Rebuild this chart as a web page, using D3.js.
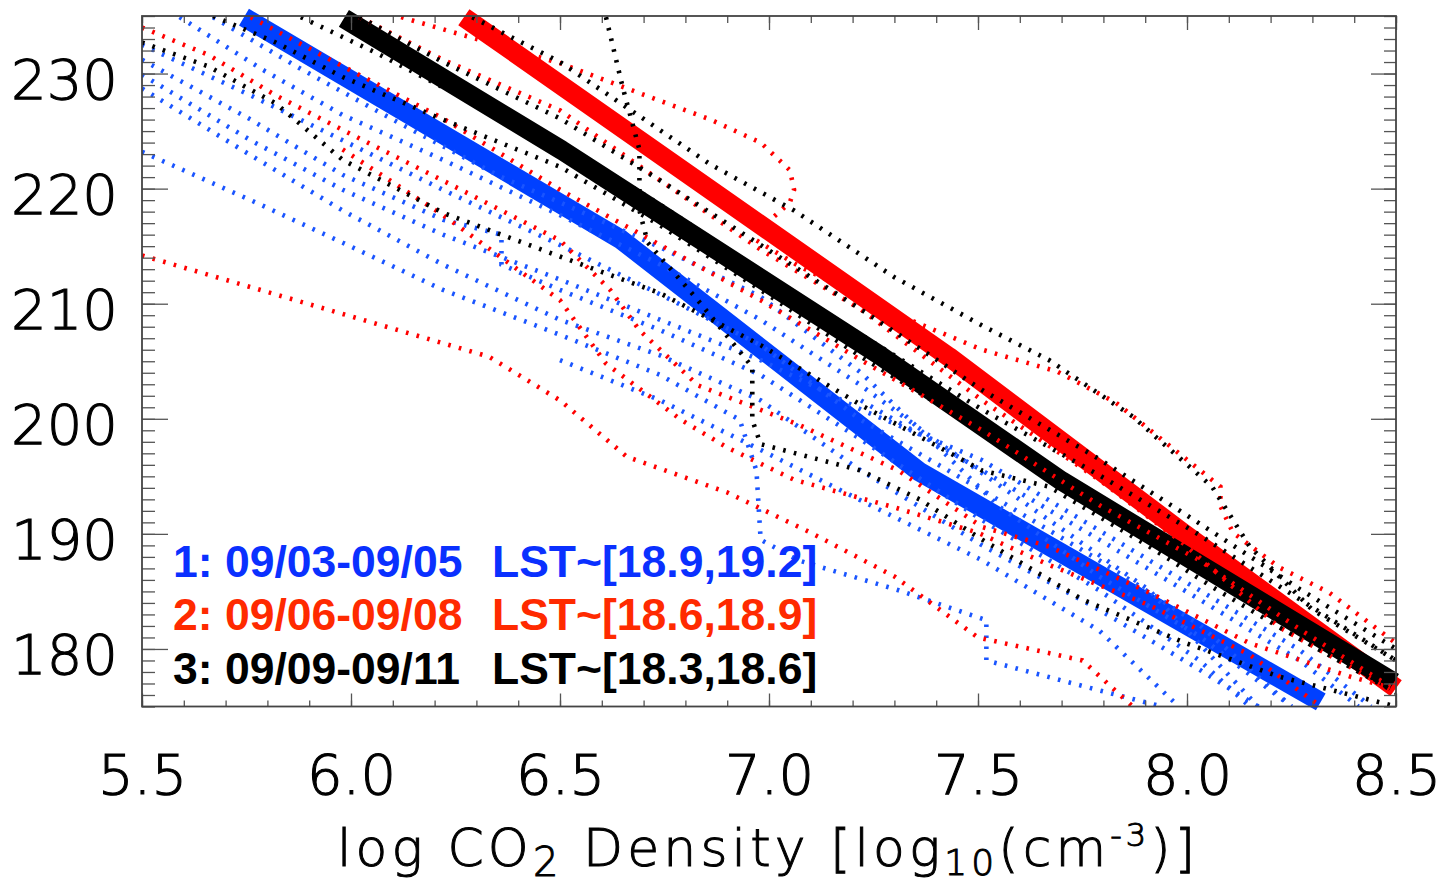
<!DOCTYPE html>
<html><head><meta charset="utf-8">
<script src="https://cdn.jsdelivr.net/npm/d3@7"></script>
<style>body{margin:0;background:#fff}</style></head>
<body><svg id="c" width="1445" height="888"></svg>
<script>
// ---- data ----
const xTickValues = [5.5, 6.0, 6.5, 7.0, 7.5, 8.0, 8.5];
const yTickValues = [180, 190, 200, 210, 220, 230];

// mean profiles [logDensity, altitude]
const meanBlue  = [[5.744,234.9],[6.645,215.6],[7.36,195.4],[8.32,175.4]];
const meanRed   = [[6.27,234.9],[7.43,205.4],[7.99,190.1],[8.50,176.6]];
const meanBlack = [[5.983,234.8],[6.504,223.35],[7.27,205.4],[7.70,194.6],[8.495,177.1]];

// individual profiles, group 1 (blue)
const blue1 = [[5.59,234.9],[5.79,230.3],[5.98,226.4],[6.22,222.5],[6.50,217.7],[6.74,213.4],[6.98,208.6],[7.22,202.9],[7.43,197.3],[7.67,191.2],[7.91,185.1],[8.17,175.0]];
const blue2 = [[5.50,232.5],[5.76,228.1],[5.98,224.2],[6.22,219.9],[6.50,215.1],[6.74,210.8],[6.98,206.4],[7.22,199.9],[7.51,193.8],[7.79,187.7],[8.03,182.1],[8.25,175.0]];
const blue3 = [[5.50,231.2],[5.76,226.0],[5.98,221.2],[6.22,217.3],[6.36,216.0],[6.36,213.4],[6.50,211.2],[6.74,207.7],[6.98,203.8],[7.22,198.2],[7.51,191.2],[7.79,185.1],[8.03,179.0],[8.15,175.0]];
const blue4 = [[5.50,229.9],[5.76,224.2],[5.98,219.9],[6.22,216.0],[6.50,212.1],[6.74,208.6],[6.98,205.1],[7.22,200.8],[7.51,196.4],[7.79,190.3],[8.03,185.1],[8.27,179.9],[8.44,175.0]];
const blue5 = [[5.50,228.7],[5.76,222.9],[5.98,218.1],[6.22,213.4],[6.50,208.6],[6.74,205.5],[6.98,201.6],[7.22,195.5],[7.51,189.0],[7.79,183.4],[8.03,178.2],[8.17,175.0]];
const blue6 = [[5.50,223.2],[5.76,219.0],[5.98,215.3],[6.22,211.2],[6.50,207.3],[6.74,203.8],[6.93,199.9],[6.97,195.5],[6.98,189.5],[7.07,187.7],[7.31,185.1],[7.52,182.5],[7.52,179.0],[7.79,176.4],[7.94,175.0]];
const blue7 = [[6.50,205.1],[6.74,201.6],[6.98,197.3],[7.22,192.9],[7.51,187.7],[7.79,181.6],[7.98,175.0]];
const blue8 = [[7.22,201.6],[7.51,195.5],[7.79,189.5],[8.03,184.3],[8.27,179.0],[8.41,175.0]];
const blue9 = [[5.67,234.9],[5.88,230.4],[6.12,225.6],[6.36,221.0],[6.50,218.8],[6.74,214.9],[6.98,210.6],[7.22,204.0],[7.38,198.4],[7.55,192.4],[7.79,186.3],[8.03,181.1],[8.25,175.0]];

// group 2 (red)
const red1 = [[6.12,234.9],[6.31,232.9],[6.50,230.9],[6.69,228.3],[6.86,226.0],[6.98,224.0],[7.05,221.6],[7.06,219.9],[7.05,218.8],[7.01,217.5],[6.97,215.5],[7.07,213.3],[7.31,209.0],[7.51,206.0],[7.69,204.1],[7.83,201.4],[7.95,197.9],[8.08,194.1],[8.08,192.4],[8.11,190.1],[8.22,187.1],[8.34,184.9],[8.50,180.5]];
const red2 = [[5.50,214.2],[6.33,205.4],[6.50,201.6],[6.66,196.7],[6.90,193.6],[7.10,190.1],[7.30,186.3],[7.50,181.0],[7.75,179.0],[7.87,175.0]];
const red3 = [[5.50,234.0],[5.66,231.6],[5.82,228.1],[5.98,225.1],[6.22,220.7],[6.50,215.5],[6.62,211.2],[6.69,207.7],[6.83,202.9],[7.07,199.5],[7.31,195.5],[7.51,190.6],[7.67,188.9],[7.91,184.9],[8.15,180.5],[8.39,177.6],[8.50,176.5]];
const red4 = [[6.02,234.9],[6.22,231.2],[6.50,226.8],[6.74,220.7],[6.98,214.7],[7.22,209.5],[7.51,201.6],[7.79,194.7],[7.99,189.2],[8.22,181.9],[8.50,176.2]];
const red5 = [[5.76,234.9],[5.95,231.2],[6.22,226.1],[6.50,219.9],[6.74,215.1],[6.98,210.3],[7.22,205.1],[7.51,199.0],[7.79,192.5],[8.03,187.7],[8.27,181.7],[8.50,176.4]];
const red6 = [[5.98,223.4],[6.22,217.7],[6.50,210.3],[6.61,204.8],[6.79,199.9],[6.90,197.5],[7.06,194.7],[7.30,192.3],[7.50,190.1],[7.67,187.3],[7.91,183.8],[8.15,179.5],[8.32,175.0]];

// group 3 (black)
const black1 = [[6.29,234.9],[6.50,231.0],[6.86,222.1],[7.06,218.1],[7.30,212.3],[7.51,208.1],[7.67,205.1],[7.87,200.2],[8.06,194.1],[8.15,188.9],[8.30,183.4],[8.50,179.0]];
const black2 = [[6.61,234.9],[6.65,228.8],[6.69,223.4],[6.69,218.1],[6.71,215.3],[6.83,210.3],[6.96,204.5],[6.96,199.9],[6.98,197.8],[7.22,195.5],[7.36,193.0],[7.51,189.5],[7.75,184.3],[7.99,180.6],[8.22,177.6],[8.50,175.0]];
const black3 = [[5.67,235.0],[5.82,232.7],[5.98,229.7],[6.22,226.0],[6.50,221.9],[6.74,216.8],[6.98,211.2],[7.22,205.4],[7.51,198.9],[7.79,192.9],[8.03,187.7],[8.27,182.1],[8.50,177.3]];
const black4 = [[5.50,232.7],[5.66,230.6],[5.82,227.4],[5.98,222.5],[6.22,217.9],[6.50,214.1],[6.74,210.9],[6.98,206.4],[7.22,201.2],[7.51,195.5],[7.67,194.1],[7.91,188.9],[8.06,185.4],[8.22,181.9],[8.50,176.2]];
const black5 = [[5.88,234.9],[6.06,231.8],[6.22,228.8],[6.38,226.2],[6.50,224.0],[6.74,218.6],[6.98,212.8],[7.22,207.3],[7.51,200.8],[7.79,195.1],[8.03,189.9],[8.27,184.3],[8.50,179.0]];
const black6 = [[6.02,234.9],[6.22,231.0],[6.50,226.1],[6.74,220.7],[6.98,215.1],[7.22,209.5],[7.51,202.5],[7.79,196.5],[8.03,190.9],[8.27,185.2],[8.50,180.0]];

const groupBlue  = [blue1, blue2, blue3, blue4, blue5, blue6, blue7, blue8, blue9];
const groupRed   = [red1, red2, red3, red4, red5, red6];
const groupBlack = [black1, black2, black3, black4, black5, black6];

const legendRows = [
  {label: "1: 09/03-09/05", lst: "LST~[18.9,19.2]", color: "#0a30ff"},
  {label: "2: 09/06-09/08", lst: "LST~[18.6,18.9]", color: "#ff2a00"},
  {label: "3: 09/09-09/11", lst: "LST~[18.3,18.6]", color: "#000000"}
];

// ---- drawing ----
const svg = d3.select("#c");
const L = 142, R = 1396, T = 16, B = 706.5;
const x = d3.scaleLinear().domain([5.5, 8.5]).range([L, R]);
const y = d3.scaleLinear().domain([175, 235]).range([B, T]);
const line = d3.line().x(d => x(d[0])).y(d => y(d[1]));

svg.append("defs").append("clipPath").attr("id", "clip")
  .append("rect").attr("x", L).attr("y", T).attr("width", R - L).attr("height", B - T);

const gThick = svg.append("g");
const gDots = svg.append("g").attr("clip-path", "url(#clip)");

function thick(data, color) {
  gThick.append("path").attr("d", line(data)).attr("fill", "none")
    .attr("stroke", color).attr("stroke-width", 19.5)
    .attr("stroke-linejoin", "round").attr("stroke-linecap", "butt");
}
function dotted(group, color) {
  gDots.selectAll(null).data(group).enter().append("path")
    .attr("d", line).attr("fill", "none").attr("stroke", color)
    .attr("stroke-width", 4.6).attr("stroke-dasharray", "2.6,8.4")
    .attr("stroke-linecap", "butt");
}
thick(meanBlue, "#0040ff");
thick(meanRed, "#ff0000");
thick(meanBlack, "#000000");
dotted(groupBlue, "#1a55ff");
dotted(groupRed, "#ff0000");
dotted(groupBlack, "#000000");

// axes
const xMinor = d3.range(55, 86).map(v => v / 10);
const yMinor = d3.range(175, 236);
const axColor = "#555";
function styleAxis(g) {
  g.select(".domain").remove();
  g.selectAll("line").attr("stroke", axColor).attr("stroke-width", 1.3);
}
svg.append("g").attr("transform", `translate(0,${B})`)
  .call(d3.axisBottom(x).tickValues(xMinor).tickSize(-6).tickFormat("")).call(styleAxis);
svg.append("g").attr("transform", `translate(0,${T})`)
  .call(d3.axisTop(x).tickValues(xMinor).tickSize(-7).tickFormat("")).call(styleAxis);
svg.append("g").attr("transform", `translate(${L},0)`)
  .call(d3.axisLeft(y).tickValues(yMinor).tickSize(-13).tickFormat("")).call(styleAxis);
svg.append("g").attr("transform", `translate(${R},0)`)
  .call(d3.axisRight(y).tickValues(yMinor).tickSize(-12).tickFormat("")).call(styleAxis);

const fontNum = "'DejaVu Sans', sans-serif";
function numStyle(sel) {
  sel.attr("font-family", fontNum).attr("font-size", 56).attr("fill", "#000")
    .attr("font-weight", 200).attr("stroke", "#000").attr("stroke-width", 1.1);
}
const xb = svg.append("g").attr("transform", `translate(0,${B})`)
  .call(d3.axisBottom(x).tickValues(xTickValues).tickSize(-13).tickPadding(48).tickFormat(d3.format(".1f")))
  .call(styleAxis);
xb.selectAll("text").call(numStyle);
svg.append("g").attr("transform", `translate(0,${T})`)
  .call(d3.axisTop(x).tickValues(xTickValues).tickSize(-14).tickFormat("")).call(styleAxis);
const yl = svg.append("g").attr("transform", `translate(${L},0)`)
  .call(d3.axisLeft(y).tickValues(yTickValues).tickSize(-26).tickPadding(24).tickFormat(d3.format("d")))
  .call(styleAxis);
yl.selectAll("text").call(numStyle).attr("dy", "0.44em");
svg.append("g").attr("transform", `translate(${R},0)`)
  .call(d3.axisRight(y).tickValues(yTickValues).tickSize(-25).tickFormat("")).call(styleAxis);

svg.append("rect").attr("x", L).attr("y", T).attr("width", R - L).attr("height", B - T)
  .attr("fill", "none").attr("stroke", "#444").attr("stroke-width", 1.8);

// x title
const tt = svg.append("text").attr("x", 337).attr("y", 866)
  .attr("font-family", fontNum).attr("font-size", 52).attr("font-weight", 200).attr("fill", "#000")
  .attr("stroke", "#000").attr("stroke-width", 1)
  .attr("textLength", 858).attr("lengthAdjust", "spacing");
tt.append("tspan").text("log  CO");
tt.append("tspan").attr("dy", 10).attr("font-size", 40).text("2");
tt.append("tspan").attr("dy", -10).text(" Density [log");
tt.append("tspan").attr("dy", 9).attr("font-size", 36).text("10");
tt.append("tspan").attr("dy", -9).text("(cm");
tt.append("tspan").attr("dy", -20).attr("font-size", 32).text("-3");
tt.append("tspan").attr("dy", 20).text(")]");

// legend
const lg = svg.append("g").attr("font-family", "'Liberation Sans', Arial, sans-serif")
  .attr("font-weight", "bold").attr("font-size", 44.5);
lg.selectAll(null).data(legendRows).enter().append("text")
  .attr("x", 173).attr("y", (d, i) => 577 + i * 53.3).attr("fill", d => d.color).text(d => d.label);
lg.selectAll(null).data(legendRows).enter().append("text")
  .attr("x", 492).attr("y", (d, i) => 577 + i * 53.3).attr("fill", d => d.color).text(d => d.lst);
</script>
</body></html>
